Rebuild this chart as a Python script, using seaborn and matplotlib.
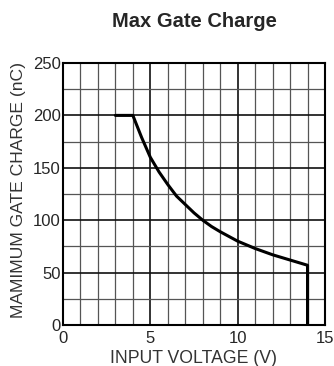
import matplotlib
matplotlib.use("Agg")
import matplotlib.pyplot as plt
import seaborn as sns
import pandas as pd

# input voltage (V) vs max gate charge (nC)
voltage = [3, 4, 4.5, 5, 5.5, 6, 6.5, 7, 7.5, 8, 8.5, 9, 10, 11, 12, 13, 14, 14]
charge = [200, 200, 179, 160, 146, 134, 123, 115, 107, 100, 94, 89, 80, 73, 67, 62, 57, 0]

x_ticks = [0, 5, 10, 15]
y_ticks = [0, 50, 100, 150, 200, 250]

df = pd.DataFrame({"voltage": voltage, "charge": charge})

sns.set_style("white")
plt.rcParams["font.family"] = ["Liberation Sans", "DejaVu Sans"]

fig = plt.figure(figsize=(3.34, 3.66), dpi=100)
ax = fig.add_axes([63 / 334, 41 / 366, 262 / 334, 262 / 366])

# grid: lighter lines every 1 V / 25 nC, darker on the labelled values
for v in range(1, 15):
    ax.axvline(v, color="#111111" if v % 5 == 0 else "#555555",
               lw=1.2 if v % 5 == 0 else 0.9, zorder=1)
for q in range(25, 250, 25):
    ax.axhline(q, color="#111111" if q % 50 == 0 else "#555555",
               lw=1.2 if q % 50 == 0 else 0.9, zorder=1)

sns.lineplot(data=df, x="voltage", y="charge", sort=False, estimator=None,
             color="black", lw=2.2, ax=ax, zorder=3)

ax.set_xlim(0, 15)
ax.set_ylim(0, 250)
ax.set_xticks(x_ticks)
ax.set_yticks(y_ticks)
ax.tick_params(length=0, labelsize=12)
ax.tick_params(axis="x", pad=4.5)
ax.tick_params(axis="y", pad=1.5)
for s in ax.spines.values():
    s.set_color("black")
    s.set_linewidth(1.5)

ax.set_title("Max Gate Charge", fontsize=14.5, fontweight="bold", y=1.137, pad=0)
ax.set_xlabel("INPUT VOLTAGE (V)", fontsize=12.7, color="#333333")
ax.set_ylabel("MAMIMUM GATE CHARGE (nC)", fontsize=12.6, color="#333333")
ax.xaxis.set_label_coords(0.5, -0.095)
ax.yaxis.set_label_coords(-0.142, 0.515)

fig.savefig("out.png", dpi=100)
